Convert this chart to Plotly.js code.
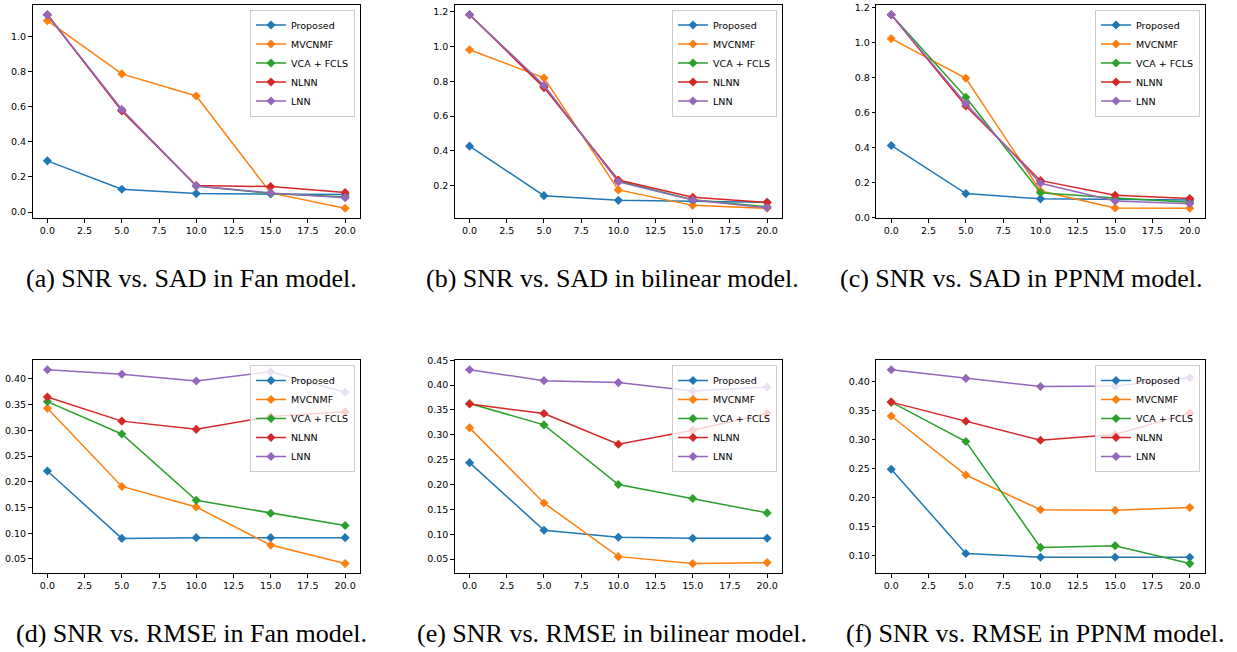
<!DOCTYPE html>
<html>
<head>
<meta charset="utf-8">
<script src="https://cdn.plot.ly/plotly-3.0.1.min.js"></script>
<style>html,body{margin:0;padding:0;background:#fff;}#chart{width:1237px;height:652px;}</style>
</head>
<body>
<div id="chart"></div>
<script>
// SNR values (x axis)
const snr = [0, 5, 10, 15, 20];
const methods = ["Proposed", "MVCNMF", "VCA + FCLS", "NLNN", "LNN"];
const colors = ["#1f77b4", "#ff7f0e", "#2ca02c", "#d62728", "#9467bd"];

// (a) SAD, Fan model
const sadFanProposed = [0.292, 0.130, 0.105, 0.103, 0.100];
const sadFanMVCNMF   = [1.092, 0.788, 0.662, 0.109, 0.021];
const sadFanVCA      = [1.126, 0.580, 0.148, 0.106, 0.085];
const sadFanNLNN     = [1.126, 0.576, 0.151, 0.145, 0.111];
const sadFanLNN      = [1.126, 0.585, 0.148, 0.109, 0.082];

// (b) SAD, bilinear model
const sadBilProposed = [0.427, 0.142, 0.115, 0.110, 0.104];
const sadBilMVCNMF   = [0.982, 0.820, 0.175, 0.086, 0.069];
const sadBilVCA      = [1.184, 0.772, 0.226, 0.118, 0.078];
const sadBilNLNN     = [1.184, 0.764, 0.232, 0.133, 0.103];
const sadBilLNN      = [1.184, 0.778, 0.221, 0.117, 0.072];

// (c) SAD, PPNM model
const sadPpnmProposed = [0.411, 0.136, 0.106, 0.103, 0.099];
const sadPpnmMVCNMF   = [1.021, 0.795, 0.151, 0.054, 0.052];
const sadPpnmVCA      = [1.158, 0.686, 0.141, 0.111, 0.086];
const sadPpnmNLNN     = [1.158, 0.636, 0.210, 0.126, 0.108];
const sadPpnmLNN      = [1.158, 0.650, 0.195, 0.094, 0.078];

// (d) RMSE, Fan model
const rmseFanProposed = [0.221, 0.090, 0.0915, 0.0915, 0.0915];
const rmseFanMVCNMF   = [0.343, 0.191, 0.151, 0.077, 0.041];
const rmseFanVCA      = [0.356, 0.293, 0.164, 0.139, 0.115];
const rmseFanNLNN     = [0.365, 0.318, 0.302, 0.327, 0.336];
const rmseFanLNN      = [0.418, 0.409, 0.396, 0.414, 0.374];

// (e) RMSE, bilinear model
const rmseBilProposed = [0.244, 0.108, 0.094, 0.092, 0.092];
const rmseBilMVCNMF   = [0.314, 0.163, 0.055, 0.041, 0.043];
const rmseBilVCA      = [0.363, 0.320, 0.200, 0.172, 0.143];
const rmseBilNLNN     = [0.362, 0.343, 0.281, 0.309, 0.343];
const rmseBilLNN      = [0.431, 0.409, 0.405, 0.388, 0.396];

// (f) RMSE, PPNM model
const rmsePpnmProposed = [0.249, 0.1035, 0.097, 0.097, 0.097];
const rmsePpnmMVCNMF   = [0.341, 0.239, 0.179, 0.178, 0.183];
const rmsePpnmVCA      = [0.365, 0.297, 0.114, 0.117, 0.086];
const rmsePpnmNLNN     = [0.365, 0.332, 0.299, 0.309, 0.346];
const rmsePpnmLNN      = [0.421, 0.406, 0.392, 0.393, 0.407];

// captions
const captions = [
  "(a) SNR vs. SAD in Fan model.",
  "(b) SNR vs. SAD in bilinear model.",
  "(c) SNR vs. SAD in PPNM model.",
  "(d) SNR vs. RMSE in Fan model.",
  "(e) SNR vs. RMSE in bilinear model.",
  "(f) SNR vs. RMSE in PPNM model."
];
const xTickVals = [0, 2.5, 5, 7.5, 10, 12.5, 15, 17.5, 20];

const panels = [
  [sadFanProposed, sadFanMVCNMF, sadFanVCA, sadFanNLNN, sadFanLNN],
  [sadBilProposed, sadBilMVCNMF, sadBilVCA, sadBilNLNN, sadBilLNN],
  [sadPpnmProposed, sadPpnmMVCNMF, sadPpnmVCA, sadPpnmNLNN, sadPpnmLNN],
  [rmseFanProposed, rmseFanMVCNMF, rmseFanVCA, rmseFanNLNN, rmseFanLNN],
  [rmseBilProposed, rmseBilMVCNMF, rmseBilVCA, rmseBilNLNN, rmseBilLNN],
  [rmsePpnmProposed, rmsePpnmMVCNMF, rmsePpnmVCA, rmsePpnmNLNN, rmsePpnmLNN]
];

// layout geometry (pixels)
const W = 1237, H = 652;
const colX = [[32.5, 360], [454.7, 782], [876.3, 1204.7]];
const rowY = [[5, 218], [360, 573.3]];
const legendRight = [355, 777, 1200];
const legendTop = [9.5, 365];
const capX = [191, 612, 1021, 191, 612, 1035];
const capY = [278, 633];
const yDtick = [0.2, 0.2, 0.2, 0.05, 0.05, 0.05];
const yFmt = [".1f", ".1f", ".1f", ".2f", ".2f", ".2f"];

const tickFont = {family: "DejaVu Sans", size: 9.5, color: "#000"};
const traces = [];
const layout = {
  width: W, height: H,
  margin: {l: 0, r: 0, t: 0, b: 0},
  paper_bgcolor: "#fff", plot_bgcolor: "#fff",
  showlegend: true,
  annotations: []
};

panels.forEach((series, p) => {
  const k = p + 1;
  const suffix = k === 1 ? "" : String(k);
  const col = p % 3, row = Math.floor(p / 3);
  const legName = "legend" + suffix;
  series.forEach((ys, m) => {
    traces.push({
      type: "scatter", mode: "lines+markers",
      x: snr, y: ys, name: methods[m],
      xaxis: "x" + suffix, yaxis: "y" + suffix,
      legend: legName,
      line: {color: colors[m], width: 1.5},
      marker: {symbol: "diamond", size: 7, color: colors[m]}
    });
  });
  // matplotlib-like 5% autoscale margins
  const all = [].concat(...series);
  const lo = Math.min(...all), hi = Math.max(...all);
  const pad = 0.05 * (hi - lo);
  const axisCommon = {
    showline: true, mirror: true, linecolor: "#000", linewidth: 1,
    ticks: "outside", ticklen: 3.5, tickwidth: 1, tickcolor: "#000",
    showgrid: false, zeroline: false, tickfont: tickFont, fixedrange: true
  };
  layout["xaxis" + suffix] = Object.assign({}, axisCommon, {
    domain: [colX[col][0] / W, colX[col][1] / W],
    anchor: "y" + suffix,
    range: [-1, 21],
    tickmode: "array", tickvals: xTickVals,
    ticktext: xTickVals.map(v => v.toFixed(1))
  });
  layout["yaxis" + suffix] = Object.assign({}, axisCommon, {
    domain: [(H - rowY[row][1]) / H, (H - rowY[row][0]) / H],
    anchor: "x" + suffix,
    range: [lo - pad, hi + pad],
    tick0: 0, dtick: yDtick[p], tickformat: yFmt[p]
  });
  layout[legName] = {
    x: legendRight[col] / W, xanchor: "right",
    y: (H - legendTop[row]) / H, yanchor: "top",
    bgcolor: "rgba(255,255,255,0.8)",
    bordercolor: "#cccccc", borderwidth: 1,
    font: {family: "DejaVu Sans", size: 9.5, color: "#000"},
    tracegroupgap: 0
  };
  layout.annotations.push({
    xref: "paper", yref: "paper",
    x: capX[p] / W, y: (H - capY[row]) / H,
    xanchor: "center", yanchor: "middle",
    text: captions[p], showarrow: false,
    font: {family: "Liberation Serif", size: 26, color: "#000"}
  });
});

Plotly.newPlot("chart", traces, layout, {displayModeBar: false, staticPlot: true});
</script>
</body>
</html>
